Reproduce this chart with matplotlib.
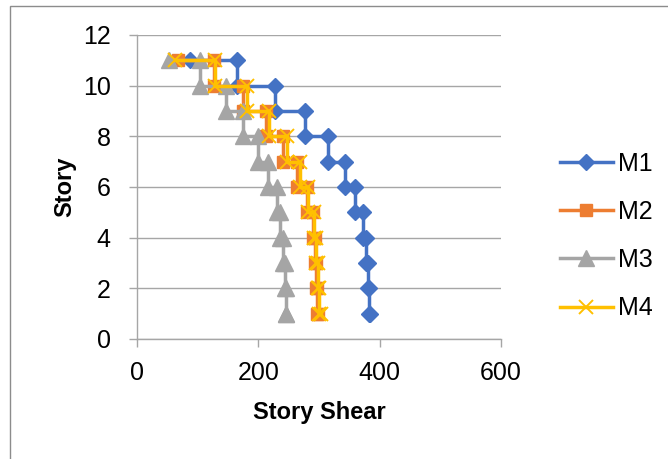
import matplotlib
matplotlib.use('Agg')
import matplotlib.pyplot as plt
from matplotlib.patches import Rectangle

plt.rcParams['font.family'] = ['Liberation Sans Narrow', 'Liberation Sans', 'DejaVu Sans']

# Story shear at each level change, from the roof down to story 1.
stories = [11, 10, 9, 8, 7, 6, 5, 4, 3, 2, 1]
m1 = [87, 165, 227, 277, 315, 343, 360, 372, 378, 381, 383, 384]
m2 = [68, 127, 175, 212, 240, 264, 280, 290, 293, 295, 297, 298]
m3 = [53, 104, 147, 175, 200, 216, 230, 236, 240, 244, 245, 246]
m4 = [63, 129, 181, 217, 247, 268, 282, 291, 295, 298, 300, 303]
labels = ['M1', 'M2', 'M3', 'M4']
colors = ['#4472C4', '#ED7D31', '#A5A5A5', '#FFC000']


def steps(shear):
    """Turn the level shears into the stepped (x, y) outline."""
    xs, ys = [], []
    for k, s in enumerate(stories):
        xs += [shear[k], shear[k + 1]]
        ys += [s, s]
    return xs, ys


fig = plt.figure(figsize=(6.68, 4.59), dpi=100)
ax = fig.add_axes([137 / 668, 1 - 339 / 459, 364 / 668, 304 / 459])

# outer chart border
fig.patches.append(Rectangle((10 / 668, -0.05), 1.0, 1 - 6 / 459 + 0.05,
                             transform=fig.transFigure, fill=False,
                             edgecolor='#8C8C8C', lw=1.0))

styles = [dict(marker='D', ms=8.5),
          dict(marker='s', ms=9),
          dict(marker='^', ms=11),
          dict(marker='x', ms=9.5, mew=1.4)]
for data, lab, col, st in zip([m1, m2, m3, m4], labels, colors, styles):
    xs, ys = steps(data)
    ax.plot(xs, ys, color=col, lw=2.5, label=lab, **st)

ax.set_xlim(0, 600)
ax.set_ylim(0, 12)
ax.set_xticks([0, 200, 400, 600])
ax.set_yticks(range(0, 13, 2))
ax.yaxis.grid(True, color='#A6A6A6', lw=1.0)
ax.set_axisbelow(True)
for side in ['top', 'right']:
    ax.spines[side].set_visible(False)
for side in ['left', 'bottom']:
    ax.spines[side].set_color('#A6A6A6')
    ax.spines[side].set_linewidth(1.0)
ax.tick_params(axis='both', direction='out', length=6, width=1.0,
               color='#A6A6A6', labelsize=18)
ax.tick_params(axis='y', pad=13)
ax.tick_params(axis='x', pad=10)

ax.set_xlabel('Story Shear', fontsize=17, fontweight='bold', labelpad=11)
ax.set_ylabel('Story', fontsize=17, fontweight='bold', labelpad=5)

ax.legend(loc='center left', bbox_to_anchor=(560 / 668, 1 - 236 / 459),
          bbox_transform=fig.transFigure, frameon=False, fontsize=18,
          handlelength=2.1, handletextpad=0.2, labelspacing=0.97,
          borderpad=0, borderaxespad=0)

fig.savefig('out.png', dpi=100)
